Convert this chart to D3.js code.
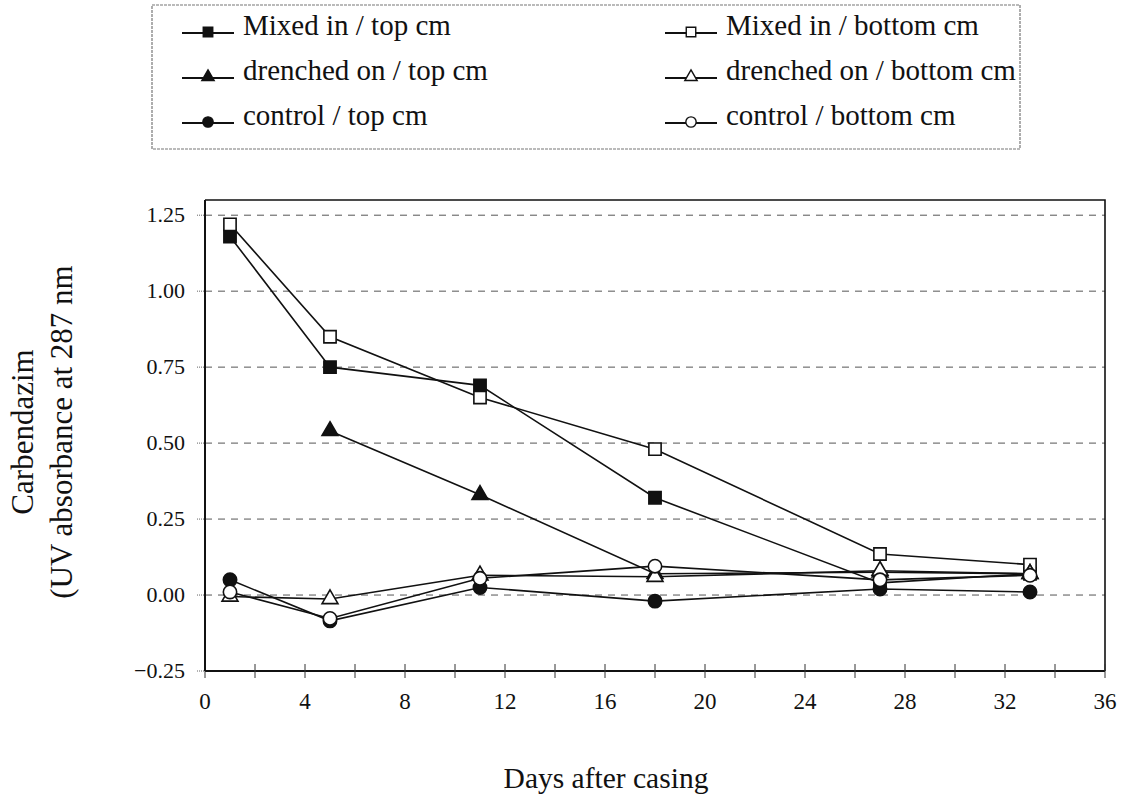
<!DOCTYPE html>
<html>
<head>
<meta charset="utf-8">
<script src="https://cdn.jsdelivr.net/npm/d3@7"></script>
<style>
  body { margin: 0; background: #fff; }
  text { font-family: "Liberation Serif", "Times New Roman", serif; fill: #111; }
</style>
</head>
<body>
<div class="chart"></div>
<script>
// sampling days
const days = [1, 5, 11, 18, 27, 33];

// series values (UV absorbance), null = not measured
const mixedTop       = [1.18, 0.75, 0.69, 0.32, 0.04, 0.07];
const mixedBottom    = [1.22, 0.85, 0.65, 0.48, 0.135, 0.10];
const drenchedTop    = [null, 0.54, 0.33, 0.07, 0.075, 0.07];
const drenchedBottom = [-0.005, -0.013, 0.065, 0.06, 0.08, 0.07];
const controlTop     = [0.05, -0.085, 0.025, -0.02, 0.02, 0.01];
const controlBottom  = [0.01, -0.077, 0.055, 0.095, 0.05, 0.065];

const seriesNames = ['Mixed in / top cm', 'Mixed in / bottom cm', 'drenched on / top cm',
  'drenched on / bottom cm', 'control / top cm', 'control / bottom cm'];

const xTicks = d3.range(0, 37, 2);
const xLabels = d3.range(0, 37, 4);
const yTicks = [-0.25, 0, 0.25, 0.5, 0.75, 1.0, 1.25];

const w = 1122, h = 801;
const svg = d3.select('.chart').append('svg')
  .attr('width', w)
  .attr('height', h);

let x = d3.scaleLinear().domain([0, 36]).range([205, 1105]);
let y = d3.scaleLinear().domain([-0.25, 1.30]).range([671, 200]);

const series = [
  { name: seriesNames[0], values: mixedTop, shape: d3.symbolSquare, size: 150, fill: '#111' },
  { name: seriesNames[1], values: mixedBottom, shape: d3.symbolSquare, size: 150, fill: '#fff' },
  { name: seriesNames[2], values: drenchedTop, shape: d3.symbolTriangle, size: 110, fill: '#111' },
  { name: seriesNames[3], values: drenchedBottom, shape: d3.symbolTriangle, size: 110, fill: '#fff' },
  { name: seriesNames[4], values: controlTop, shape: d3.symbolCircle, size: 140, fill: '#111' },
  { name: seriesNames[5], values: controlBottom, shape: d3.symbolCircle, size: 140, fill: '#fff' }
];

// legend box
svg.append('rect')
  .attr('x', 152).attr('y', 5)
  .attr('width', 868).attr('height', 144)
  .attr('fill', 'none')
  .attr('stroke', '#777')
  .attr('stroke-width', 1.2)
  .attr('stroke-dasharray', '3,1');

series.forEach((s, i) => {
  let col = i % 2, row = Math.floor(i / 2);
  let lx = col === 0 ? 182 : 665;
  let ly = 33 + row * 45;
  let lg = svg.append('g').attr('transform', `translate(${lx},${ly})`);
  lg.append('line')
    .attr('x1', 0).attr('x2', 52)
    .attr('y1', 0).attr('y2', 0)
    .attr('stroke', '#111').attr('stroke-width', 1.8);
  lg.append('path')
    .attr('d', d3.symbol().type(s.shape).size(s.size * 0.6)())
    .attr('transform', 'translate(26,-1)')
    .attr('fill', s.fill).attr('stroke', '#111').attr('stroke-width', 1.4);
  lg.append('text')
    .attr('x', 61).attr('y', 2)
    .attr('font-size', 29)
    .text(s.name);
});

// gridlines
svg.append('g')
  .selectAll('line')
  .data(yTicks.filter(d => d >= 0))
  .enter().append('line')
  .attr('x1', x(0)).attr('x2', x(36))
  .attr('y1', d => y(d)).attr('y2', d => y(d))
  .attr('stroke', '#555')
  .attr('stroke-width', 1)
  .attr('stroke-dasharray', '7,6');

// frame: top and right
svg.append('path')
  .attr('d', `M${x(0)},${y(1.30)}H${x(36)}V${y(-0.25)}`)
  .attr('fill', 'none')
  .attr('stroke', '#111')
  .attr('stroke-width', 1.6);

// x axis with crossing ticks
let xAxis = svg.append('g').attr('transform', `translate(0,${y(-0.25)})`);
xAxis.append('line')
  .attr('x1', x(0)).attr('x2', x(36))
  .attr('stroke', '#111').attr('stroke-width', 2);
xAxis.selectAll('.xt')
  .data(xTicks)
  .enter().append('line')
  .attr('class', 'xt')
  .attr('x1', d => x(d)).attr('x2', d => x(d))
  .attr('y1', -7).attr('y2', 7)
  .attr('stroke', '#333').attr('stroke-width', 1);
xAxis.selectAll('.xl')
  .data(xLabels)
  .enter().append('text')
  .attr('class', 'xl')
  .attr('x', d => x(d)).attr('y', 38)
  .attr('text-anchor', 'middle')
  .attr('font-size', 23)
  .text(d => d);

// y axis
let yAxis = svg.append('g').attr('transform', `translate(${x(0)},0)`);
yAxis.append('line')
  .attr('y1', y(-0.25)).attr('y2', y(1.30))
  .attr('stroke', '#111').attr('stroke-width', 2);
yAxis.selectAll('.yt')
  .data(yTicks)
  .enter().append('line')
  .attr('class', 'yt')
  .attr('x1', -8).attr('x2', 0)
  .attr('y1', d => y(d)).attr('y2', d => y(d))
  .attr('stroke', '#666').attr('stroke-width', 1)
  .attr('stroke-dasharray', '1,1');
yAxis.selectAll('.yl')
  .data(yTicks)
  .enter().append('text')
  .attr('class', 'yl')
  .attr('x', -20).attr('y', d => y(d) + 7)
  .attr('text-anchor', 'end')
  .attr('font-size', 22)
  .text(d => d3.format('.2f')(d));

// axis titles
svg.append('text')
  .attr('transform', 'translate(33,432) rotate(-90)')
  .attr('text-anchor', 'middle')
  .attr('font-size', 31)
  .text('Carbendazim');
svg.append('text')
  .attr('transform', 'translate(72,432) rotate(-90)')
  .attr('text-anchor', 'middle')
  .attr('font-size', 31)
  .text('(UV absorbance at 287 nm');
svg.append('text')
  .attr('x', 606).attr('y', 788)
  .attr('text-anchor', 'middle')
  .attr('font-size', 29.5)
  .text('Days after casing');

// series
let line = d3.line()
  .defined(d => d.v !== null)
  .x(d => x(d.day))
  .y(d => y(d.v));

series.forEach(s => {
  let pts = days.map((day, i) => ({ day: day, v: s.values[i] }));
  let g = svg.append('g');
  g.append('path')
    .attr('d', line(pts))
    .attr('fill', 'none')
    .attr('stroke', '#111')
    .attr('stroke-width', 1.6);
  g.selectAll('path.mark')
    .data(pts.filter(d => d.v !== null))
    .enter().append('path')
    .attr('class', 'mark')
    .attr('d', d3.symbol().type(s.shape).size(s.size)())
    .attr('transform', d => `translate(${x(d.day)},${y(d.v)})`)
    .attr('fill', s.fill)
    .attr('stroke', '#111')
    .attr('stroke-width', 1.6);
});
</script>
</body>
</html>
